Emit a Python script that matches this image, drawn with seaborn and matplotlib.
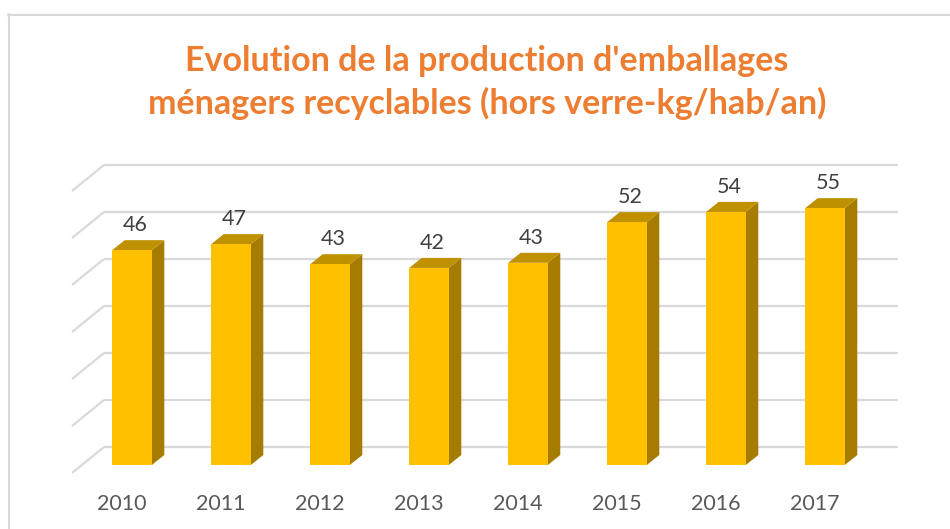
import matplotlib
matplotlib.use("Agg")
import matplotlib.pyplot as plt
from matplotlib.patches import Polygon
import seaborn as sns
import pandas as pd

# ---- data ----
years = ["2010", "2011", "2012", "2013", "2014", "2015", "2016", "2017"]
values = [46, 47.3, 43, 42.2, 43.3, 52, 54.2, 55]
grid_values = [0, 10, 20, 30, 40, 50, 60]
title_lines = ["Evolution de la production d'emballages",
               "ménagers recyclables (hors verre-kg/hab/an)"]

sns.set_theme(style="white")
plt.rcParams['font.family'] = ['Lato', 'DejaVu Sans']

W, H = 950, 529
fig = plt.figure(figsize=(W / 100, H / 100), dpi=100)

# axes occupying pixel box x 60..910, y 150..480 (from top)
ax_x0, ax_x1, ax_y0, ax_y1 = 60, 910, 150, 480
ax = fig.add_axes([ax_x0 / W, (H - ax_y1) / H, (ax_x1 - ax_x0) / W, (ax_y1 - ax_y0) / H])

PX_PER_CAT = 99.0
X0_PX = 132.0          # pixel of category 0 center
PX_PER_UNIT = 4.67
Y0_PX = 465.0          # pixel of value 0 (front plane)

def px2x(px):
    return (px - X0_PX) / PX_PER_CAT

def py2y(py):
    return (Y0_PX - py) / PX_PER_UNIT

df = pd.DataFrame({"year": years, "value": values})

grid_col = "#D9D9D9"
# back wall gridlines and side wall lines
for g in grid_values:
    back_py = 447 - 4.7 * g
    front_py = back_py + 26
    ax.plot([px2x(104), px2x(898)], [py2y(back_py), py2y(back_py)],
            color=grid_col, lw=1.6, zorder=1, solid_capstyle="butt")
    ax.plot([px2x(72), px2x(104)], [py2y(front_py), py2y(back_py)],
            color=grid_col, lw=1.6, zorder=1, solid_capstyle="butt")

# front faces with seaborn
bar_w = 0.4
sns.barplot(data=df, x="year", y="value", order=years, color="#FFC000",
            saturation=1, width=bar_w, ax=ax, zorder=3, linewidth=0)
ax.set_xlim(px2x(ax_x0), px2x(ax_x1))
ax.set_ylim(py2y(ax_y1), py2y(ax_y0))
ax.axis("off")

ddx = 12.5 / PX_PER_CAT
ddy = 10 / PX_PER_UNIT
for i, v in enumerate(values):
    xl, xr = i - bar_w / 2, i + bar_w / 2
    side = Polygon([(xr, 0), (xr + ddx, ddy), (xr + ddx, v + ddy), (xr, v)],
                   closed=True, facecolor="#A67C00", edgecolor="none", zorder=2)
    top = Polygon([(xl, v), (xr, v), (xr + ddx, v + ddy), (xl + ddx, v + ddy)],
                  closed=True, facecolor="#BF9000", edgecolor="none", zorder=2)
    ax.add_patch(side)
    ax.add_patch(top)
    ax.text(i + 0.03, v + 25 / PX_PER_UNIT, f"{v:.0f}", ha="center", va="center",
            fontsize=15.5, color="#404040", zorder=5)
    ax.text(i - 10.5 / PX_PER_CAT, py2y(504), years[i], ha="center", va="center",
            fontsize=15.5, color="#595959", zorder=5)

# title
fig.text(487 / W, 1 - 71 / H, title_lines[0], ha="center", va="baseline",
         fontsize=24.5, fontweight="bold", color="#ED7D31")
fig.text(487 / W, 1 - 114 / H, title_lines[1], ha="center", va="baseline",
         fontsize=24.5, fontweight="bold", color="#ED7D31")

# chart frame (left and top edges visible)
fig.add_artist(plt.Line2D([8.5 / W, 8.5 / W], [0, 1 - 14 / H], transform=fig.transFigure,
                          color="#D9D9D9", lw=1.5))
fig.add_artist(plt.Line2D([8 / W, 1], [1 - 14.5 / H, 1 - 14.5 / H], transform=fig.transFigure,
                          color="#D9D9D9", lw=1.5))

fig.savefig("out.png", dpi=100, facecolor="white")
